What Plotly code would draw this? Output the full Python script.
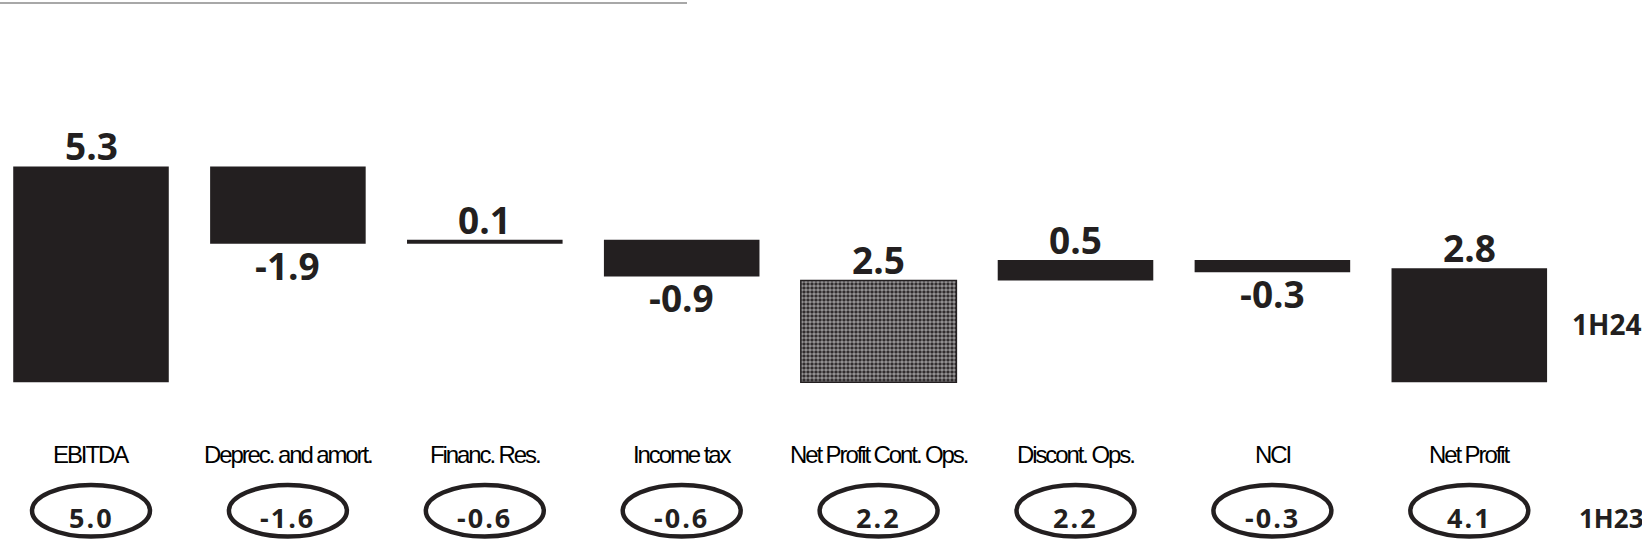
import plotly.graph_objects as go

# ---- data ----
categories = ["EBITDA", "Deprec. and amort.", "Financ. Res.", "Income tax",
              "Net Profit Cont. Ops.", "Discont. Ops.", "NCI", "Net Profit"]
values_1h24 = [5.3, -1.9, 0.1, -0.9, 2.5, 0.5, -0.3, 2.8]
measures = ["absolute", "relative", "relative", "relative", "total", "relative", "relative", "total"]
values_1h23 = [5.0, -1.6, -0.6, -0.6, 2.2, 2.2, -0.3, 4.1]
series_labels = ["1H24", "1H23"]
patterned = [False, False, False, False, True, False, False, False]

# ---- waterfall geometry from data ----
bases, heights = [], []
level = 0.0
for v, m in zip(values_1h24, measures):
    if m in ("absolute", "total"):
        bases.append(0.0)
        heights.append(v)
        level = v
    else:
        bases.append(level)
        heights.append(v)
        level += v

DARK = "#231f20"
x_idx = list(range(len(categories)))

fig = go.Figure()
fig.add_trace(go.Bar(
    x=x_idx, y=heights, base=bases, width=0.79,
    marker=dict(
        color=[DARK] * len(categories),
        line=dict(color=[DARK if p else "rgba(0,0,0,0)" for p in patterned],
                  width=[1.5 if p else 0 for p in patterned]),
        pattern=dict(
            shape=["." if p else "" for p in patterned],
            fgcolor=[DARK] * len(categories),
            bgcolor=["white" if p else DARK for p in patterned],
            size=4, solidity=0.65,
        ),
    ),
    hoverinfo="skip", showlegend=False,
))

annotations = []
VALUE_FONT = dict(family="Open Sans", size=37, color=DARK)
for i, (b, h) in enumerate(zip(bases, heights)):
    txt = f"<b>{h:.1f}</b>"
    if h >= 0:
        annotations.append(dict(x=i, y=b + h, xref="x", yref="y", text=txt,
                                showarrow=False, yanchor="bottom", yshift=-6.8,
                                font=VALUE_FONT))
    else:
        annotations.append(dict(x=i, y=b + h, xref="x", yref="y", text=txt,
                                showarrow=False, yanchor="top", yshift=6.2,
                                font=VALUE_FONT))

# category labels (condensed look)
for i, c in enumerate(categories):
    annotations.append(dict(x=i, y=0.1802, xref="x", yref="paper",
                            text=f"<span style='letter-spacing:-2.1px'>{c}</span>",
                            showarrow=False, yanchor="middle",
                            font=dict(family="Liberation Sans", size=24, color="black")))

# 1H23 values in ellipses
shapes = []
ell_w = 0.599
for i, v in enumerate(values_1h23):
    shapes.append(dict(type="circle", xref="x", yref="paper",
                       x0=i - ell_w / 2, x1=i + ell_w / 2, y0=0.0333, y1=0.1261,
                       line=dict(color=DARK, width=4.5), fillcolor="rgba(0,0,0,0)"))
    annotations.append(dict(x=i, y=0.0670, xref="x", yref="paper",
                            text=f"<b><span style='letter-spacing:2px'>{v:.1f}</span></b>",
                            showarrow=False, yanchor="middle",
                            font=dict(family="Open Sans", size=27, color=DARK)))

# series labels at right
annotations.append(dict(x=1570 / 1642, y=0.4168, xref="paper", yref="paper",
                        text=f"<b>{series_labels[0]}</b>", showarrow=False,
                        xanchor="left", yanchor="middle",
                        font=dict(family="Open Sans", size=28, color=DARK)))
annotations.append(dict(x=1577 / 1642, y=0.0665, xref="paper", yref="paper",
                        text=f"<b>{series_labels[1]}</b>", showarrow=False,
                        xanchor="left", yanchor="middle",
                        font=dict(family="Open Sans", size=26, color=DARK)))

# top rule
shapes.append(dict(type="line", xref="paper", yref="paper",
                   x0=0, x1=687 / 1642, y0=1 - 3 / 555, y1=1 - 3 / 555,
                   line=dict(color="#a8a8a8", width=2)))

fig.update_layout(
    width=1642, height=555,
    margin=dict(l=0, r=0, t=0, b=0),
    paper_bgcolor="white", plot_bgcolor="white",
    xaxis=dict(range=[-91 / 196.9, (1642 - 91) / 196.9], visible=False, fixedrange=True),
    yaxis=dict(range=[-(555 - 382.2) / 40.7, 382.2 / 40.7], visible=False, fixedrange=True),
    annotations=annotations, shapes=shapes,
    bargap=0, showlegend=False,
)

fig.write_html("out.html", config={"displayModeBar": False, "staticPlot": True},
               post_script="document.body.style.margin='0';document.body.style.overflow='hidden';")
